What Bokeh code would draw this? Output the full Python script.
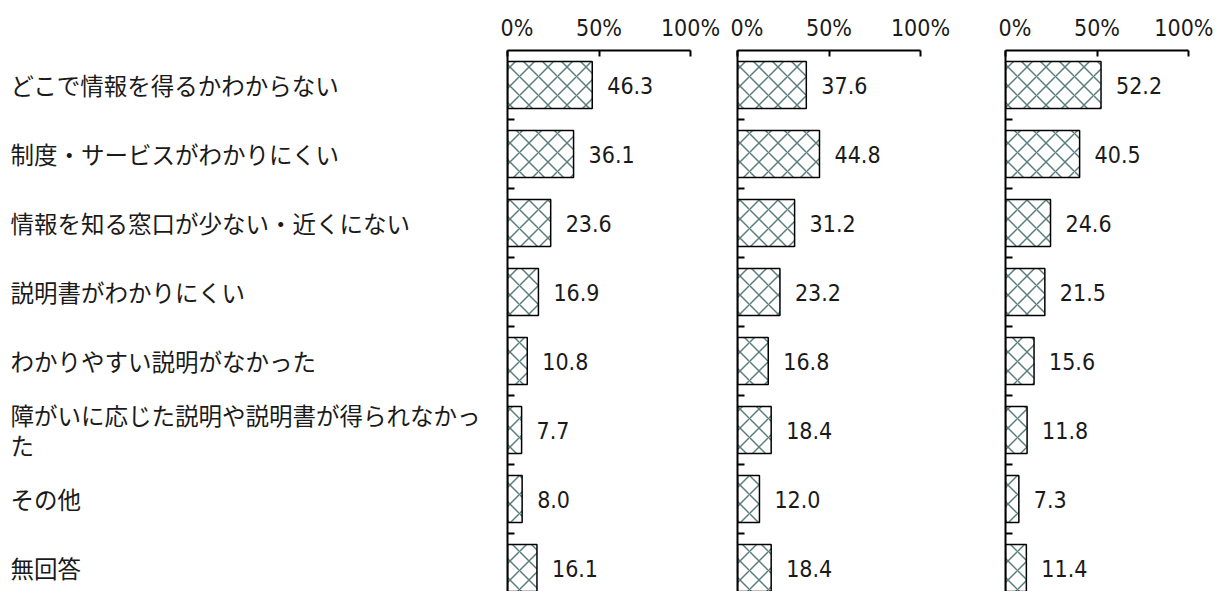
from bokeh.plotting import figure
from bokeh.models import Range1d, FixedTicker, ColumnDataSource
from bokeh.layouts import row
from bokeh.core.properties import value
from bokeh.embed import file_html
from bokeh.resources import INLINE

categories = [
    "どこで情報を得るかわからない",
    "制度・サービスがわかりにくい",
    "情報を知る窓口が少ない・近くにない",
    "説明書がわかりにくい",
    "わかりやすい説明がなかった",
    "障がいに応じた説明や説明書が得られなかっ\nた",
    "その他",
    "無回答",
]
series_a = [46.3, 36.1, 23.6, 16.9, 10.8, 7.7, 8.0, 16.1]
series_b = [37.6, 44.8, 31.2, 23.2, 16.8, 18.4, 12.0, 18.4]
series_c = [52.2, 40.5, 24.6, 21.5, 15.6, 11.8, 7.3, 11.4]
x_ticks = [0, 50, 100]
x_tick_labels = ["0%", "50%", "100%"]

NUM_FONT = "DejaVu Sans Condensed"
CJK_FONT = "Noto Sans CJK JP"
TXT = "#1a1a1a"

ypos = [i + 0.5 for i in range(len(categories))]
y_range = Range1d(7.84, 0)

FH = 541
TOP = 50

# label column
lab = figure(width=500, height=TOP + FH, x_range=Range1d(0, 500), y_range=y_range,
             output_backend="svg", toolbar_location=None,
             min_border_left=0, min_border_right=0, min_border_top=TOP, min_border_bottom=0,
             x_axis_location=None, y_axis_location=None)
lab.outline_line_color = None
lab.grid.visible = False
lab.text(x=[10] * len(categories), y=ypos, text=categories,
         text_font=value(CJK_FONT), text_font_size="23.5px", text_color=TXT,
         text_align="left", text_baseline="middle", text_line_height=0.86)


def panel(vals, right_border):
    p = figure(frame_width=183, frame_height=FH, x_range=Range1d(0, 100), y_range=y_range,
               output_backend="svg", toolbar_location=None,
               min_border_left=7, min_border_right=right_border,
               min_border_top=TOP, min_border_bottom=0,
               x_axis_location="above")
    p.outline_line_color = None
    p.grid.visible = False
    src = ColumnDataSource(dict(y=ypos, v=vals, t=[f"{v:.1f}" for v in vals]))
    p.hbar(y="y", left=0, right="v", height=0.68, source=src,
           fill_color="white", line_color="black", line_width=1.5,
           hatch_pattern="x", hatch_color="#5a7e7c", hatch_scale=19, hatch_weight=1.5)
    p.text(x="v", y="y", text="t", source=src, x_offset=15,
           text_font=value(NUM_FONT), text_font_size="23px", text_color=TXT,
           text_align="left", text_baseline="middle")
    xa = p.xaxis[0]
    xa.ticker = FixedTicker(ticks=x_ticks)
    xa.major_label_overrides = {t: l for t, l in zip(x_ticks, x_tick_labels)}
    xa.major_label_text_font = NUM_FONT
    xa.major_label_text_font_size = "23px"
    xa.major_label_text_color = TXT
    xa.major_label_standoff = 10
    xa.major_tick_in = 6
    xa.major_tick_out = 0
    xa.minor_tick_line_color = None
    xa.axis_line_width = 2
    xa.major_tick_line_width = 2
    ya = p.yaxis[0]
    ya.ticker = FixedTicker(ticks=list(range(1, len(categories))))
    ya.major_label_text_font_size = "0px"
    ya.major_label_standoff = 0
    ya.major_tick_in = 7
    ya.major_tick_out = 0
    ya.minor_tick_line_color = None
    ya.axis_line_width = 2
    ya.major_tick_line_width = 2
    return p


p1 = panel(series_a, 40)
p2 = panel(series_b, 78)
p3 = panel(series_c, 25)

layout = row(lab, p1, p2, p3)
open("out.html", "w").write(file_html(layout, INLINE))
